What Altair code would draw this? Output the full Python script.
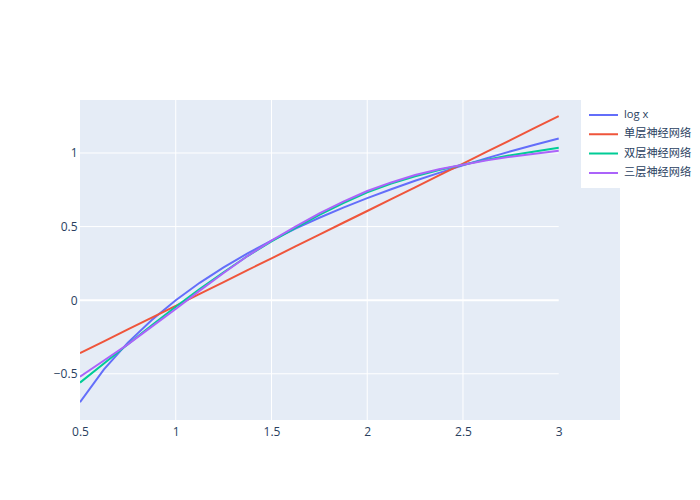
import altair as alt
import pandas as pd

xs = [0.5, 0.625, 0.75, 0.875, 1.0, 1.125, 1.25, 1.375, 1.5, 1.625, 1.75,
      1.875, 2.0, 2.125, 2.25, 2.375, 2.5, 2.625, 2.75, 2.875, 3.0]
log_y = [-0.693, -0.470, -0.288, -0.134, 0.0, 0.118, 0.223, 0.318, 0.405, 0.486, 0.560,
         0.629, 0.693, 0.754, 0.811, 0.865, 0.916, 0.965, 1.012, 1.056, 1.099]
one_y = [-0.360, -0.280, -0.199, -0.119, -0.038, 0.043, 0.123, 0.204, 0.284, 0.365, 0.445,
         0.526, 0.606, 0.687, 0.767, 0.848, 0.928, 1.009, 1.089, 1.170, 1.250]
two_y = [-0.560, -0.430, -0.300, -0.170, -0.045, 0.075, 0.190, 0.300, 0.400, 0.492, 0.580,
         0.660, 0.733, 0.792, 0.842, 0.885, 0.920, 0.955, 0.985, 1.010, 1.035]
three_y = [-0.520, -0.410, -0.300, -0.180, -0.060, 0.065, 0.185, 0.300, 0.405, 0.500, 0.590,
           0.670, 0.742, 0.800, 0.850, 0.890, 0.920, 0.950, 0.975, 0.995, 1.015]

names = ["log x", "单层神经网络", "双层神经网络", "三层神经网络"]
colors = ["#636efa", "#EF553B", "#00cc96", "#ab63fa"]

x_ticks = [0.5, 1, 1.5, 2, 2.5, 3]
y_ticks = [-0.5, 0, 0.5, 1]
x_grid = [1, 1.5, 2, 2.5]

rows = []
for name, ys in zip(names, [log_y, one_y, two_y, three_y]):
    for x, y in zip(xs, ys):
        rows.append({"x": x, "y": y, "series": name})
df = pd.DataFrame(rows)

xdom = [0.5, 3.32]
ydom = [-0.814, 1.36]
xscale = alt.Scale(domain=xdom, nice=False, zero=False)
yscale = alt.Scale(domain=ydom, nice=False, zero=False)

xaxis = alt.Axis(values=x_ticks, grid=False, domain=False, ticks=False,
                 labelPadding=6, labelColor="#2a3f5f", labelFontSize=12,
                 labelFont="Open Sans", labelFlush=False, format="~g")
yaxis = alt.Axis(values=y_ticks, grid=False, domain=False, ticks=False,
                 labelPadding=3, labelColor="#2a3f5f", labelFontSize=12,
                 labelFont="Open Sans", format="~g")

hgrid = alt.Chart(pd.DataFrame({"y": y_ticks, "x0": [0.5] * 4, "x1": [3.0] * 4,
                                "w": [1, 2, 1, 1]})).mark_rule(color="white").encode(
    y=alt.Y("y:Q", scale=yscale, axis=yaxis, title=None),
    x=alt.X("x0:Q", scale=xscale, axis=xaxis, title=None),
    x2="x1:Q",
    strokeWidth=alt.StrokeWidth("w:Q", scale=None, legend=None),
)
vgrid = alt.Chart(pd.DataFrame({"x": x_grid})).mark_rule(color="white", strokeWidth=1).encode(
    x=alt.X("x:Q", scale=xscale, axis=xaxis, title=None),
)

lines = alt.Chart(df).mark_line(strokeWidth=2, clip=True).encode(
    x=alt.X("x:Q", scale=xscale, title=None, axis=xaxis),
    y=alt.Y("y:Q", scale=yscale, title=None, axis=yaxis),
    color=alt.Color("series:N", scale=alt.Scale(domain=names, range=colors),
                    sort=names, title=None,
                    legend=alt.Legend(orient="none", legendX=501, legendY=0,
                                      symbolType="stroke", symbolSize=841,
                                      symbolStrokeWidth=2, labelFontSize=11.2,
                                      labelColor="#2a3f5f",
                                      labelFont="Open Sans, Noto Sans CJK SC",
                                      labelOffset=5, padding=7, rowPadding=3.3,
                                      clipHeight=16,
                                      fillColor="white")),
    detail="series:N",
)

chart = alt.layer(hgrid, vgrid, lines).properties(
    width=540, height=320,
    autosize=alt.AutoSizeParams(type="none"),
    padding={"left": 72, "top": 92, "right": 72, "bottom": 60},
    background="white",
).configure_view(fill="#E5ECF6", stroke=None)

chart.save("out.html", embed_options={"renderer": "svg", "actions": False})
